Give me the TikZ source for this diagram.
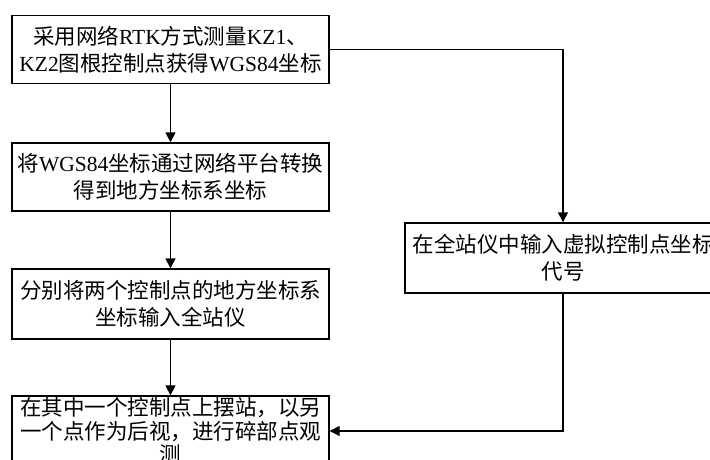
\documentclass[tikz,border=0pt]{standalone}
\usepackage{fontspec}
\setmainfont{Liberation Serif}
\newfontfamily\cjk{Noto Sans CJK SC}
\usetikzlibrary{arrows.meta}
\begin{document}
\begin{tikzpicture}[x=1pt,y=-1pt,
  box/.style={draw,line width=1.4pt,rectangle,inner sep=0pt,align=center,
    font=\fontsize{21.5pt}{27pt}\selectfont},
  wbox/.style={box,minimum width=317pt,minimum height=69pt},
  arr/.style={line width=1.5pt,-{Triangle[length=10pt,width=10pt]}}]
\useasboundingbox (0,0) rectangle (710,460);
\clip (0,0) rectangle (710,460);
\node[wbox,minimum height=68pt] (b1) at (170.5,49.5)
  {{\cjk 采用网络}RTK{\cjk 方式测量}KZ1{\cjk 、}\\KZ2{\cjk 图根控制点获得}WGS84{\cjk 坐标}};
\node[wbox,minimum height=68pt] (b2) at (170.5,177)
  {{\cjk 将}WGS84{\cjk 坐标通过网络平台转换}\\{\cjk 得到地方坐标系坐标}};
\node[wbox,minimum height=70pt] (b3) at (170.5,304)
  {{\cjk 分别将两个控制点的地方坐标系}\\{\cjk 坐标输入全站仪}};
\node[wbox,minimum height=70pt,font=\fontsize{21.5pt}{23.5pt}\selectfont] (b4) at (170.5,431)
  {{\cjk 在其中一个控制点上摆站，以另}\\{\cjk 一个点作为后视，进行碎部点观}\\{\cjk 测}};
\node[box,minimum width=316pt,minimum height=70pt] (r) at (563,258)
  {{\cjk 在全站仪中输入虚拟控制点坐标}\\{\cjk 代号}};
\draw[arr] (b1) -- (b2);
\draw[arr] (b2) -- (b3);
\draw[arr] (b3) -- (b4);
\draw[arr] (b1.east) -| (r.north);
\draw[arr] (r.south) |- (b4.east);
\end{tikzpicture}
\end{document}
